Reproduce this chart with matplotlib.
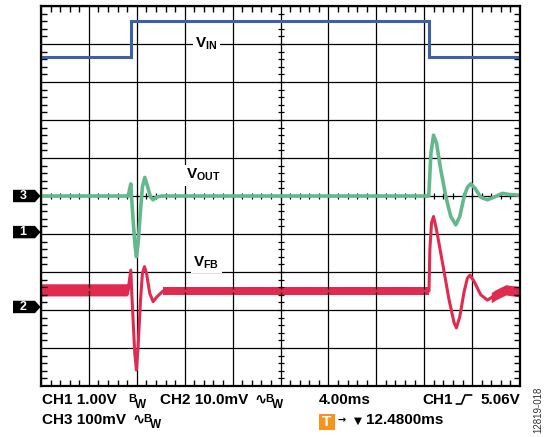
import numpy as np
import matplotlib
matplotlib.use("Agg")  # non-GUI env
import matplotlib.pyplot as plt
from matplotlib.patches import Polygon, Rectangle
import matplotlib.transforms as mtransforms

plt.rcParams['font.family'] = ['Liberation Sans', 'DejaVu Sans']
plt.rcParams['mathtext.fontset'] = 'custom'
plt.rcParams['mathtext.rm'] = 'Liberation Sans'
plt.rcParams['mathtext.bf'] = 'Liberation Sans:bold'

# scope settings
t_div = 4.0                      # ms/div
ch1_scale = 1.0                  # V/div
ch2_scale = 10.0                 # mV/div
ch3_scale = 100.0                # mV/div
ch1_pos, ch2_pos, ch3_pos = -0.95, -2.92, 0.0   # ground markers (div from centre)

# CH1: V_IN (V)
vin_t = [0.0, 7.5, 7.5, 32.42, 32.42, 40.0]
vin_v = [4.61, 4.61, 5.55, 5.55, 4.61, 4.61]

# CH3: V_OUT (mV)
vout_t = [0.0, 7.28, 7.50, 7.56, 7.69, 7.86, 7.97, 8.11, 8.31, 8.47, 8.67, 8.86,
          9.14, 9.36, 9.64, 10.06,
          32.38, 32.56, 32.78, 33.03, 33.39, 33.81, 34.22, 34.64, 34.97, 35.33,
          35.61, 35.89, 36.25, 36.72, 37.28, 37.83, 38.53, 39.08, 40.0]
vout_v = [0, 0, 32, -2, -63, -133, -160, -124, -37, 24, 49, 29,
          -2, -10, -3, 0,
          0, 112, 160, 139, 68, -2, -54, -76, -54, -2,
          23, 32, 20, -3, -10, -3, 7, 4, 2]

# CH2: V_FB (mV)
vfb_t = [0.0, 7.28, 7.50, 7.58, 7.69, 7.83, 7.97, 8.11, 8.31, 8.47, 8.64, 8.81,
         9.08, 9.36, 9.69, 10.19,
         32.40, 32.47, 32.61, 32.78, 33.03, 33.53, 34.08, 34.50, 34.69, 34.97,
         35.33, 35.61, 35.83, 36.17, 36.72, 37.28, 37.97, 38.81, 40.0]
vfb_v = [4.5, 4.5, 9.7, 3.6, -3.4, -12.2, -16.6, -10.4, 1.8, 8.9, 10.6, 8.9,
         3.6, 1.4, 2.7, 4.2,
         4.2, 15.0, 22.1, 23.8, 20.3, 11.6, 1.8, -4.2, -5.5, -2.6,
         4.0, 7.6, 8.4, 6.7, 3.2, 1.8, 3.2, 4.5, 4.0]
# noise band on the flat parts of V_FB: (start ms, end ms, half width mV)
vfb_noise = [(0.0, 7.45, 1.6), (10.2, 32.40, 1.0), (37.6, 40.0, 1.35)]

blue = '#3c61a6'
green = '#63b98b'
red = '#e02a50'
orange = '#f7941d'

W, H = 548, 437
fig = plt.figure(figsize=(W / 100, H / 100), dpi=100)
ax = fig.add_axes([41 / W, 1 - 386 / H, 479 / W, 380 / H])
ax.set_xlim(0, 10)
ax.set_ylim(-5, 5)

# graticule
ax.set_xticks(np.arange(0, 11, 1))
ax.set_yticks(np.arange(-5, 6, 1))
ax.set_xticks(np.arange(0, 10.01, 0.2), minor=True)
ax.set_yticks(np.arange(-5, 5.01, 0.2), minor=True)
ax.tick_params(which='both', direction='in', top=True, right=True,
               labelbottom=False, labelleft=False)
ax.tick_params(which='major', length=0)
ax.tick_params(which='minor', length=4, width=1.0, color='black')
ax.grid(which='major', color='black', lw=0.9)
for sp in ax.spines.values():
    sp.set_linewidth(1.6)

# centre cross ticks
cx = np.arange(0.2, 10, 0.2)
ax.plot(cx, np.zeros_like(cx), ls='none', marker='|', ms=5, mew=0.9, color='black', zorder=1.6)
ax.plot(np.full_like(cx, 5.0), cx - 5, ls='none', marker='_', ms=5, mew=0.9, color='black', zorder=1.6)

# traces
ax.plot(np.array(vin_t) / t_div, np.array(vin_v) / ch1_scale + ch1_pos,
        color=blue, lw=2.2, solid_joinstyle='miter')
ax.plot(np.array(vout_t) / t_div, np.array(vout_v) / ch3_scale + ch3_pos,
        color=green, lw=2.6)
ax.plot(np.array(vfb_t) / t_div, np.array(vfb_v) / ch2_scale + ch2_pos,
        color=red, lw=2.2)
for t0, t1, hw in vfb_noise:
    tt = np.linspace(t0, t1, 50)
    mid = np.interp(tt, vfb_t, vfb_v)
    ax.fill_between(tt / t_div, (mid - hw) / ch2_scale + ch2_pos,
                    (mid + hw) / ch2_scale + ch2_pos, color=red, lw=0)

# trace names
lab = dict(fontsize=11, ha='left', va='center', zorder=4,
           bbox=dict(facecolor='white', edgecolor='none', pad=1.5))
ax.text(3.22, 4.0, r'$\mathbf{V}_{\mathbf{IN}}$', **lab)
ax.text(3.03, 0.55, r'$\mathbf{V}_{\mathbf{OUT}}$', **lab)
ax.text(3.18, -1.75, r'$\mathbf{V}_{\mathbf{FB}}$', **lab)

# channel ground markers
tr = mtransforms.blended_transform_factory(ax.transAxes, ax.transData)
mh = 6.2 / 38
for num, pos in (('3', ch3_pos), ('1', ch1_pos), ('2', ch2_pos)):
    pts = [(-28 / 479, pos - mh), (-6 / 479, pos - mh), (-0.5 / 479, pos),
           (-6 / 479, pos + mh), (-28 / 479, pos + mh)]
    ax.add_patch(Polygon(pts, closed=True, facecolor='black', edgecolor='none',
                         transform=tr, clip_on=False))
    ax.text(-18 / 479, pos, num, transform=tr, color='white', fontsize=9,
            fontweight='bold', ha='center', va='center')


def ftext(x, y, s, size=11, **kw):
    fig.text(x / W, 1 - y / H, s, fontsize=size, fontweight='bold',
             va='baseline', ha='left', **kw)


def bw(x, y):
    ftext(x, y - 2, 'B', size=8)
    ftext(x + 7, y + 4, 'W', size=8.5)


# readout
ftext(41.5, 404, 'CH1 1.00V')
bw(128, 404)
ftext(160, 404, 'CH2 10.0mV')
ftext(254, 403, '∿', size=10.5)
bw(265, 404)
ftext(319, 404, '4.00ms')
ftext(422, 404, 'CH1')
ftext(480, 404, '5.06V')
fig.add_artist(plt.Line2D([456.5 / W, 461.5 / W, 465 / W, 471.5 / W],
                          [1 - 404 / H, 1 - 404 / H, 1 - 395 / H, 1 - 395 / H],
                          color='black', lw=1.2))

ftext(41.5, 424, 'CH3 100mV')
ftext(132, 423, '∿', size=10.5)
bw(143, 424)
fig.add_artist(Rectangle((319 / W, 1 - 430 / H), 16 / W, 16 / H,
                         facecolor=orange, edgecolor='none'))
fig.text(327 / W, 1 - 422.5 / H, 'T', fontsize=11, fontweight='bold',
         color='white', ha='center', va='center')
fig.text(341.5 / W, 1 - 420 / H, '→', fontsize=7, fontweight='bold',
         ha='center', va='center', family='DejaVu Sans')
fig.text(357.5 / W, 1 - 421 / H, '▼', fontsize=7.5,
         ha='center', va='center', family='DejaVu Sans')
ftext(366, 424, '12.4800ms')

fig.text(538 / W, 1 - 410 / H, '12819-018', fontsize=7, rotation=90,
         color='#333333', ha='center', va='center')

fig.savefig('out.png', dpi=100)
